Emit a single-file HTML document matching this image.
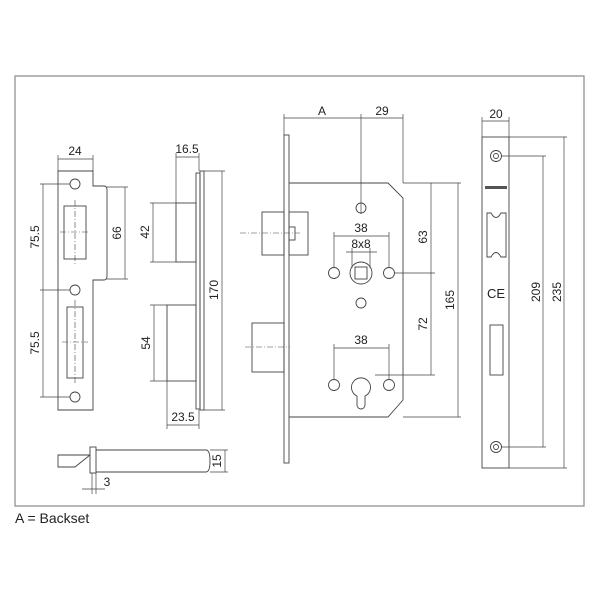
<!DOCTYPE html><html><head><style>body{margin:0;background:#fff}svg{display:block}text{font-family:"Liberation Sans",sans-serif;fill:#222}</style></head><body>
<svg width="600" height="600" viewBox="0 0 600 600" xmlns="http://www.w3.org/2000/svg">
<g fill="none" stroke="#444" stroke-width="0.9">
<rect x="15" y="76" width="569" height="430" stroke="#888" stroke-width="1.2"/>
<path d="M58 171 H93 V186 H104 Q107 186 107 190 V276 Q107 280 104 280 H93 V410 H58 Z"/>
<circle cx="75" cy="184" r="5"/><circle cx="75" cy="290" r="5"/><circle cx="75" cy="397" r="5"/>
<rect x="64" y="206" width="22" height="53"/><rect x="67" y="307" width="16" height="71"/>
<path d="M58 159 H93 M58 155 V171 M93 155 V171 M43 184 V397 M40 184 H70 M40 290 H70 M40 397 H70 M125 187 V279 M107 187 H128 M107 279 H128" stroke-width="0.7"/>
<path d="M60 232 H90 M75 200 V265 M62 342 H88 M75 300 V385" stroke-dasharray="6 2 1 2" stroke-width="0.6"/>
<rect x="196" y="173" width="4" height="236"/><rect x="200" y="171" width="4" height="239"/>
<rect x="176" y="203" width="20" height="59"/><rect x="167" y="305" width="29" height="76"/>
<path d="M176 157 H199 M176 153 V203 M199 153 V171 M153 203 V262 M150 203 H176 M150 262 H176 M154 305 V381 M150 305 H167 M150 381 H167 M167 425 H199 M167 381 V429 M199 410 V429 M222 171 V410 M204 171 H225 M204 410 H225" stroke-width="0.7"/>
<rect x="90" y="447" width="6" height="26"/><path d="M96 450 H206 Q210 450 210 461 Q210 472 206 472 H96"/>
<path d="M90 455 H58 V467 H75 L90 455"/>
<path d="M210 450 H228 M210 472 H228 M225 450 V472 M92 473 V494 M96 473 V494 M82 489 H105" stroke-width="0.7"/>
<rect x="284" y="135" width="5" height="328"/>
<path d="M289 183 H388 L403 198 V400 L388 417 H289"/>
<rect x="262" y="212" width="22" height="43"/><rect x="289" y="212" width="19" height="43"/><rect x="289" y="227" width="6" height="13"/>
<rect x="252" y="323" width="32" height="49"/>
<circle cx="361" cy="208" r="5"/><circle cx="361" cy="273" r="11"/><rect x="355" y="267" width="12" height="12"/>
<circle cx="334" cy="273" r="5.5"/><circle cx="389" cy="273" r="5.5"/><circle cx="361" cy="303" r="5"/>
<circle cx="334" cy="385" r="5.5"/><circle cx="389" cy="385" r="5.5"/>
<path d="M357 396 A9.5 9.5 0 1 1 365 396 V405 A4 4 0 0 1 357 405 Z"/>
<path d="M284 118 H403 M284 114 V135 M361 114 V214 M403 114 V183 M334 236 H389 M334 232 V268 M389 232 V268 M346 252 H377 M352 248 V268 M370 248 V268 M334 348 H389 M334 344 V380 M389 344 V380 M431 183 V375 M403 183 H461 M395 273 H435 M375 375 H435 M458 183 V417 M403 417 H461" stroke-width="0.7"/>
<path d="M240 233 H300 M245 347 H290" stroke-dasharray="6 2 1 2" stroke-width="0.6"/>
<rect x="482" y="137" width="27" height="331"/>
<circle cx="496" cy="156" r="5.5"/><circle cx="496" cy="156" r="2.5"/><circle cx="496" cy="447" r="5.5"/><circle cx="496" cy="447" r="2.5"/>
<path d="M487 213 H491 Q496 222 501 213 H506 V257 H501 Q496 248 491 257 H487 Z"/><rect x="490" y="325" width="13" height="50"/>
<path d="M482 121 H509 M482 117 V137 M509 117 V137 M501 156 H546 M501 447 H546 M543 156 V447 M509 137 H567 M509 468 H567 M564 137 V468" stroke-width="0.7"/>
</g>
<rect x="485" y="186" width="22" height="3" fill="#555"/>
<g font-size="12" text-anchor="middle">
<text x="75" y="155">24</text><text x="187" y="153">16.5</text><text x="183" y="421">23.5</text>
<text x="322" y="115">A</text><text x="382" y="115">29</text><text x="361" y="232">38</text><text x="361" y="248">8x8</text><text x="361" y="344">38</text>
<text x="496" y="118">20</text><text x="496" y="298" font-size="13">CE</text><text x="107" y="486">3</text>
<text transform="translate(39,237) rotate(-90)">75.5</text><text transform="translate(39,343) rotate(-90)">75.5</text>
<text transform="translate(121,233) rotate(-90)">66</text><text transform="translate(149,232) rotate(-90)">42</text>
<text transform="translate(150,343) rotate(-90)">54</text><text transform="translate(218,290) rotate(-90)">170</text>
<text transform="translate(427,237) rotate(-90)">63</text><text transform="translate(427,324) rotate(-90)">72</text>
<text transform="translate(454,300) rotate(-90)">165</text><text transform="translate(221,461) rotate(-90)">15</text>
<text transform="translate(540,292) rotate(-90)">209</text><text transform="translate(561,292) rotate(-90)">235</text>
</g>
<text x="15" y="523" font-size="14">A = Backset</text>
</svg></body></html>
